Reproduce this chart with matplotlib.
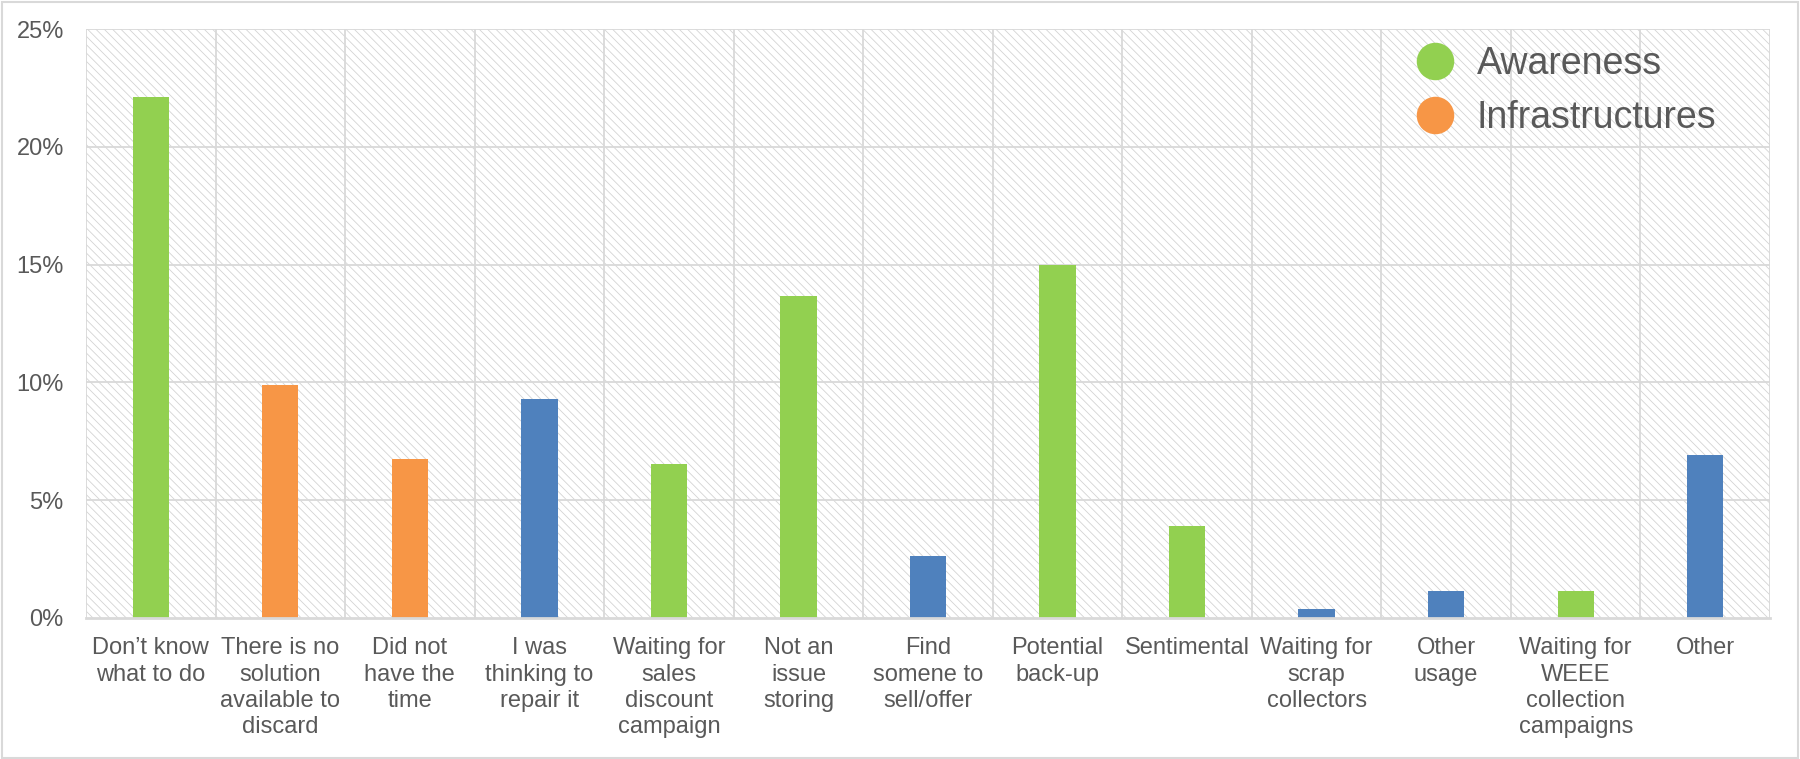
import matplotlib
matplotlib.use('Agg')
import matplotlib.pyplot as plt
from matplotlib.patches import Rectangle
from matplotlib.lines import Line2D
from matplotlib.ticker import PercentFormatter

plt.rcParams['font.family'] = ['Liberation Sans', 'DejaVu Sans']
plt.rcParams['hatch.linewidth'] = 0.6

# reasons for keeping old devices (% of answers)
reasons = [
    'Don\u2019t know\nwhat to do',
    'There is no\nsolution\navailable to\ndiscard',
    'Did not\nhave the\ntime',
    'I was\nthinking to\nrepair it',
    'Waiting for\nsales\ndiscount\ncampaign',
    'Not an\nissue\nstoring',
    'Find\nsomene to\nsell/offer',
    'Potential\nback-up',
    'Sentimental',
    'Waiting for\nscrap\ncollectors',
    'Other\nusage',
    'Waiting for\nWEEE\ncollection\ncampaigns',
    'Other',
]
shares = [22.1, 9.9, 6.75, 9.3, 6.55, 13.65, 2.65, 15.0, 3.9, 0.4, 1.15, 1.15, 6.9]
groups = ['aw', 'inf', 'inf', 'oth', 'aw', 'aw', 'oth', 'aw', 'aw', 'oth', 'oth', 'aw', 'oth']

colors = {'aw': '#92D050', 'inf': '#F79646', 'oth': '#4F81BD'}
txt = '#595959'
grid = '#D9D9D9'

fig = plt.figure(figsize=(18, 7.59), dpi=100)
ax = fig.add_axes([86 / 1800, 1 - 618 / 759, (1770 - 86) / 1800, (618 - 29) / 759])

# hatched plot area background
ax.add_patch(Rectangle((0, 0), 1, 1, transform=ax.transAxes, facecolor='white',
                       edgecolor='#D3D3D3', hatch='\\\\\\\\', linewidth=0, zorder=0))

x = range(len(reasons))
ax.bar(x, shares, width=0.28, color=[colors[g] for g in groups], zorder=3)

ax.set_xlim(-0.5, len(reasons) - 0.5)
ax.set_ylim(0, 25)
ax.set_yticks([0, 5, 10, 15, 20, 25])
ax.yaxis.set_major_formatter(PercentFormatter(decimals=0))
ax.set_xticks(list(x))
ax.set_xticklabels(reasons, linespacing=1.24)
ax.tick_params(axis='both', length=0, labelsize=17, labelcolor=txt)
ax.tick_params(axis='x', pad=14)
ax.tick_params(axis='y', pad=16)
for lbl in ax.get_xticklabels():
    lbl.set_verticalalignment('top')

# gridlines: horizontal at ticks, vertical between categories
for yv in [5, 10, 15, 20, 25]:
    ax.axhline(yv, color=grid, lw=1.3, zorder=1)
for i in range(len(reasons) + 1):
    ax.axvline(i - 0.5, color=grid, lw=1.3, zorder=1)
for s in ['top', 'right', 'left']:
    ax.spines[s].set_visible(False)
ax.spines['bottom'].set_color(grid)
ax.spines['bottom'].set_linewidth(2)
ax.spines['bottom'].set_zorder(4)

handles = [
    Line2D([], [], marker='o', ls='', markersize=27, markerfacecolor=colors['aw'], markeredgewidth=0),
    Line2D([], [], marker='o', ls='', markersize=27, markerfacecolor=colors['inf'], markeredgewidth=0),
]
leg = ax.legend(handles, ['Awareness', 'Infrastructures'], loc='upper left',
                bbox_to_anchor=(1364 / 1800, 1 - 12 / 759), bbox_transform=fig.transFigure,
                frameon=False, fontsize=27, labelspacing=0.48, handletextpad=0.1)
for t in leg.get_texts():
    t.set_color(txt)

# thin frame around the whole chart
fig.patches.append(Rectangle((0.001, 0.001), 0.998, 0.997, transform=fig.transFigure,
                             fill=False, edgecolor=grid, lw=1.5))

fig.savefig('out.png', dpi=100)
